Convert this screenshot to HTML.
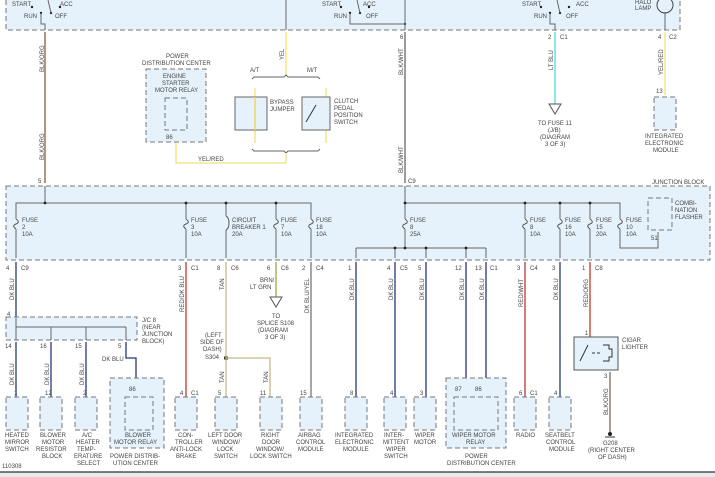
<!DOCTYPE html>
<html><head><meta charset="utf-8"><style>
html,body{margin:0;padding:0;background:#fff;width:715px;height:477px;overflow:hidden}
svg{display:block}
text{font-family:"Liberation Sans",sans-serif;font-size:6px;fill:#444}
.bx{fill:#e6f2fb;stroke:#777;stroke-width:1;stroke-dasharray:5,3}
.w{fill:none;stroke-width:1.3}
.g{fill:none;stroke:#666;stroke-width:1}
.d{fill:#222}
.f{fill:none;stroke:#555;stroke-width:1}
</style></head><body>
<svg width="715" height="477" viewBox="0 0 715 477">
<rect class="bx" x="6" y="-5" width="674" height="35"/>
<text x="12" y="6">START</text><text x="60" y="6">ACC</text>
<text x="24" y="18">RUN</text><text x="55" y="18">OFF</text>
<text x="322" y="6">START</text><text x="363" y="6">ACC</text>
<text x="334" y="18">RUN</text><text x="366" y="18">OFF</text>
<text x="522" y="6">START</text><text x="576" y="6">ACC</text>
<text x="534" y="18">RUN</text><text x="566" y="18">OFF</text>
<text x="635" y="4">HALO</text><text x="635" y="10">LAMP</text>
<circle cx="665" cy="5" r="8" fill="none" stroke="#444"/>
<g class="d"><circle cx="32" cy="7" r="1.2"/><circle cx="41" cy="13" r="1.2"/><circle cx="51" cy="13" r="1.2"/><circle cx="60" cy="7" r="1.2"/>
<circle cx="341" cy="7" r="1.2"/><circle cx="350" cy="13" r="1.2"/><circle cx="360" cy="13" r="1.2"/><circle cx="369" cy="7" r="1.2"/><circle cx="405" cy="24" r="1.2"/>
<circle cx="541" cy="7" r="1.2"/><circle cx="550" cy="13" r="1.2"/><circle cx="560" cy="13" r="1.2"/><circle cx="569" cy="7" r="1.2"/></g>
<line class="g" x1="48" y1="0" x2="51" y2="13"/><line class="g" x1="357" y1="0" x2="360" y2="13"/><line class="g" x1="557" y1="0" x2="560" y2="13"/>
<polyline class="g" points="41,13 41,24 45,24 45,30"/>
<line class="g" x1="286" y1="0" x2="286" y2="30"/>
<polyline class="g" points="350,13 350,24 405,24 405,30"/>
<polyline class="g" points="550,13 550,24 555,24 555,30"/>
<line class="g" x1="665" y1="12" x2="665" y2="30"/>
<line class="g" x1="405" y1="0" x2="405" y2="24"/>
<line class="w" stroke="#8a5a3a" x1="45" y1="32" x2="45" y2="183"/>
<text transform="translate(44,72) rotate(-90)">BLK/ORG</text>
<text transform="translate(44,160) rotate(-90)">BLK/ORG</text>
<line class="w" stroke="#666" x1="405" y1="32" x2="405" y2="183"/>
<text transform="translate(403,75) rotate(-90)">BLK/WHT</text>
<text transform="translate(403,173) rotate(-90)">BLK/WHT</text>
<text x="400" y="39">6</text><text x="408" y="183">C9</text>
<line class="w" stroke="#f0e27a" stroke-width="2" x1="286" y1="32" x2="286" y2="76"/>
<text transform="translate(284,60) rotate(-90)">YEL</text>
<text x="250" y="72">A/T</text><text x="307" y="72">M/T</text>
<path class="g" d="M252,79 l2,-2 h30 l2,-2 l2,2 h30 l2,2"/>
<line class="w" stroke="#f0e27a" stroke-width="2" x1="255" y1="88" x2="255" y2="143"/>
<line class="w" stroke="#f0e27a" stroke-width="2" x1="326" y1="88" x2="326" y2="143"/>
<rect x="235" y="97" width="32" height="33" fill="#e6f2fb" stroke="#666"/>
<line x1="255" y1="97" x2="255" y2="130" stroke="#e8d870" stroke-width="1.5"/>
<rect x="302" y="97" width="28" height="33" fill="#e6f2fb" stroke="#666"/>
<line x1="306" y1="122" x2="316" y2="105" stroke="#333"/>
<text x="270" y="104">BYPASS</text><text x="270" y="111">JUMPER</text>
<text x="334" y="103">CLUTCH</text><text x="334" y="110">PEDAL</text><text x="334" y="117">POSITION</text><text x="334" y="124">SWITCH</text>
<path class="g" d="M252,149 l2,2 h30 l2,2 l2,-2 h30 l2,-2"/>
<polyline class="w" stroke="#f0e27a" stroke-width="2" points="176,136 176,163 286,163 286,153"/>
<text x="198" y="161">YEL/RED</text>
<text x="166" y="58">POWER</text><text x="142" y="65">DISTRIBUTION CENTER</text>
<rect class="bx" x="146" y="69" width="60" height="73"/>
<text x="163" y="78">ENGINE</text><text x="162" y="85">STARTER</text><text x="155" y="92">MOTOR RELAY</text>
<rect class="bx" x="165" y="98" width="22" height="32"/>
<text x="166" y="139">86</text>
<line class="w" stroke="#4fd5e5" stroke-width="2" x1="555" y1="32" x2="555" y2="104"/>
<text transform="translate(553,70) rotate(-90)">LT BLU</text>
<text x="548" y="39">2</text><text x="560" y="39">C1</text>
<path d="M549,104 h12 l-6,10 z" fill="#fff" stroke="#555"/>
<text x="538" y="125">TO FUSE 11</text><text x="548" y="132">(J/B)</text><text x="540" y="139">(DIAGRAM</text><text x="545" y="146">3 OF 3)</text>
<line class="w" stroke="#f0e27a" stroke-width="2" x1="665" y1="32" x2="665" y2="95"/>
<text transform="translate(663,75) rotate(-90)">YEL/RED</text>
<text x="658" y="39">4</text><text x="669" y="39">C2</text><text x="656" y="93">13</text>
<rect class="bx" x="654" y="97" width="22" height="33"/>
<text x="645" y="138">INTEGRATED</text><text x="645" y="145">ELECTRONIC</text><text x="653" y="152">MODULE</text>
<rect class="bx" x="6" y="186" width="704" height="74"/>
<text x="652" y="184">JUNCTION BLOCK</text>
<text x="38" y="183">5</text>
<polyline class="g" points="16,258 16,203 311,203 311,258"/>
<line class="g" x1="45" y1="186" x2="45" y2="203"/>
<line class="g" x1="186" y1="203" x2="186" y2="258"/>
<line class="g" x1="226" y1="203" x2="226" y2="258"/>
<line class="g" x1="276" y1="203" x2="276" y2="258"/>
<text x="22" y="222">FUSE</text><text x="22" y="229">2</text><text x="22" y="236">10A</text>
<text x="191" y="222">FUSE</text><text x="191" y="229">3</text><text x="191" y="236">10A</text>
<text x="232" y="222">CIRCUIT</text><text x="232" y="229">BREAKER 1</text><text x="232" y="236">20A</text>
<text x="281" y="222">FUSE</text><text x="281" y="229">7</text><text x="281" y="236">10A</text>
<text x="316" y="222">FUSE</text><text x="316" y="229">18</text><text x="316" y="236">10A</text>
<line class="g" x1="405" y1="186" x2="405" y2="248"/>
<polyline class="g" points="405,203 620,203 620,248 658,248 658,232"/>
<line class="g" x1="356" y1="248" x2="486" y2="248"/>
<g class="g"><line x1="356" y1="248" x2="356" y2="258"/><line x1="395" y1="248" x2="395" y2="258"/><line x1="426" y1="248" x2="426" y2="258"/><line x1="466" y1="248" x2="466" y2="258"/><line x1="486" y1="248" x2="486" y2="258"/>
<line x1="525" y1="203" x2="525" y2="258"/><line x1="560" y1="203" x2="560" y2="258"/><line x1="590" y1="203" x2="590" y2="258"/></g>
<g>
<rect x="14" y="219" width="4" height="10" fill="#e6f2fb"/><path class="f" d="M16,219 c3,2 3,4 0,5 c-3,1 -3,3 0,5"/>
<rect x="184" y="219" width="4" height="10" fill="#e6f2fb"/><path class="f" d="M186,219 c3,2 3,4 0,5 c-3,1 -3,3 0,5"/>
<rect x="224" y="216" width="4" height="14" fill="#e6f2fb"/><path class="f" d="M226,216 c4,2 4,12 0,14"/>
<rect x="274" y="219" width="4" height="10" fill="#e6f2fb"/><path class="f" d="M276,219 c3,2 3,4 0,5 c-3,1 -3,3 0,5"/>
<rect x="309" y="219" width="4" height="10" fill="#e6f2fb"/><path class="f" d="M311,219 c3,2 3,4 0,5 c-3,1 -3,3 0,5"/>
<rect x="403" y="219" width="4" height="10" fill="#e6f2fb"/><path class="f" d="M405,219 c3,2 3,4 0,5 c-3,1 -3,3 0,5"/>
<rect x="523" y="219" width="4" height="10" fill="#e6f2fb"/><path class="f" d="M525,219 c3,2 3,4 0,5 c-3,1 -3,3 0,5"/>
<rect x="558" y="219" width="4" height="10" fill="#e6f2fb"/><path class="f" d="M560,219 c3,2 3,4 0,5 c-3,1 -3,3 0,5"/>
<rect x="588" y="219" width="4" height="10" fill="#e6f2fb"/><path class="f" d="M590,219 c3,2 3,4 0,5 c-3,1 -3,3 0,5"/>
<rect x="618" y="219" width="4" height="10" fill="#e6f2fb"/><path class="f" d="M620,219 c3,2 3,4 0,5 c-3,1 -3,3 0,5"/>
</g>
<text x="410" y="222">FUSE</text><text x="410" y="229">8</text><text x="410" y="236">25A</text>
<text x="530" y="222">FUSE</text><text x="530" y="229">8</text><text x="530" y="236">10A</text>
<text x="565" y="222">FUSE</text><text x="565" y="229">16</text><text x="565" y="236">10A</text>
<text x="596" y="222">FUSE</text><text x="596" y="229">15</text><text x="596" y="236">20A</text>
<text x="626" y="222">FUSE</text><text x="626" y="229">10</text><text x="626" y="236">10A</text>
<rect class="bx" x="648" y="198" width="24" height="32"/>
<text x="675" y="205">COMBI-</text><text x="675" y="212">NATION</text><text x="675" y="219">FLASHER</text><text x="651" y="240">51</text>
<g class="d"><circle cx="45" cy="203" r="1.4"/><circle cx="186" cy="203" r="1.4"/><circle cx="226" cy="203" r="1.4"/><circle cx="276" cy="203" r="1.4"/><circle cx="405" cy="203" r="1.4"/><circle cx="525" cy="203" r="1.4"/><circle cx="560" cy="203" r="1.4"/><circle cx="590" cy="203" r="1.4"/><circle cx="405" cy="248" r="1.4"/><circle cx="395" cy="248" r="1.4"/><circle cx="426" cy="248" r="1.4"/><circle cx="466" cy="248" r="1.4"/><circle cx="226" cy="358" r="2"/>
<circle cx="16" cy="327" r="1.4"/><circle cx="51" cy="327" r="1.4"/><circle cx="86" cy="327" r="1.4"/></g>
<line class="w" stroke="#1f3a7a" x1="16" y1="262" x2="16" y2="318"/>
<text x="6" y="270">4</text><text x="21" y="270">C9</text>
<text transform="translate(14,300) rotate(-90)">DK BLU</text>
<rect class="bx" x="6" y="317" width="131" height="23"/>
<text x="7" y="316">4</text>
<text x="142" y="322">J/C 8</text><text x="142" y="329">(NEAR</text><text x="142" y="336">JUNCTION</text><text x="142" y="343">BLOCK)</text>
<g class="g"><line x1="16" y1="318" x2="16" y2="340"/><line x1="16" y1="327" x2="126" y2="327"/>
<line x1="51" y1="327" x2="51" y2="340"/><line x1="86" y1="327" x2="86" y2="340"/><line x1="126" y1="327" x2="126" y2="340"/></g>
<g class="w" stroke="#1f3a7a">
<line x1="16" y1="342" x2="16" y2="397"/><line x1="51" y1="342" x2="51" y2="397"/><line x1="86" y1="342" x2="86" y2="397"/>
<polyline points="126,342 126,358 136,358 136,390"/>
<line x1="356" y1="262" x2="356" y2="397"/><line x1="395" y1="262" x2="395" y2="397"/><line x1="426" y1="262" x2="426" y2="397"/>
<line x1="466" y1="262" x2="466" y2="390"/><line x1="486" y1="262" x2="486" y2="390"/>
<line x1="560" y1="262" x2="560" y2="397"/></g>
<line class="w" stroke="#c0392b" x1="186" y1="262" x2="186" y2="397"/>
<line class="w" stroke="#c0392b" x1="525" y1="262" x2="525" y2="397"/>
<line class="w" stroke="#c0392b" x1="590" y1="262" x2="590" y2="337"/>
<line class="w" stroke="#c8b98a" x1="226" y1="262" x2="226" y2="397"/>
<polyline class="w" stroke="#c8b98a" points="226,358 270,358 270,397"/>
<line class="w" stroke="#9aa84a" x1="276" y1="262" x2="276" y2="297"/>
<path d="M270,297 h12 l-6,10 z" fill="#fff" stroke="#555"/>
<line class="w" stroke="#777" x1="311" y1="262" x2="311" y2="397"/>
<text x="178" y="270">3</text><text x="191" y="270">C1</text>
<text x="217" y="270">8</text><text x="231" y="270">C6</text>
<text x="267" y="270">6</text><text x="281" y="270">C6</text>
<text x="302" y="270">2</text><text x="316" y="270">C4</text>
<text x="348" y="270">1</text><text x="387" y="270">4</text><text x="400" y="270">C5</text><text x="418" y="270">5</text>
<text x="455" y="270">12</text><text x="475" y="270">13</text><text x="490" y="270">C1</text>
<text x="517" y="270">3</text><text x="530" y="270">C4</text><text x="552" y="270">3</text><text x="582" y="270">1</text><text x="595" y="270">C8</text>
<text transform="translate(184,312) rotate(-90)">RED/DK BLU</text>
<text transform="translate(224,290) rotate(-90)">TAN</text>
<text x="260" y="282">BRN/</text><text x="250" y="289">LT GRN</text>
<text x="272" y="318">TO</text><text x="257" y="325">SPLICE S108</text><text x="258" y="332">(DIAGRAM</text><text x="265" y="339">3 OF 3)</text>
<text transform="translate(309,313) rotate(-90)">DK BLU/YEL</text>
<text transform="translate(354,300) rotate(-90)">DK BLU</text><text transform="translate(393,300) rotate(-90)">DK BLU</text>
<text transform="translate(424,300) rotate(-90)">DK BLU</text><text transform="translate(464,300) rotate(-90)">DK BLU</text>
<text transform="translate(484,300) rotate(-90)">DK BLU</text><text transform="translate(523,307) rotate(-90)">RED/WHT</text>
<text transform="translate(558,300) rotate(-90)">DK BLU</text><text transform="translate(588,307) rotate(-90)">RED/ORG</text>
<text x="5" y="348">14</text><text x="40" y="348">16</text><text x="75" y="348">15</text><text x="118" y="348">5</text>
<text x="102" y="361">DK BLU</text>
<text transform="translate(14,385) rotate(-90)">DK BLU</text><text transform="translate(49,385) rotate(-90)">DK BLU</text><text transform="translate(84,385) rotate(-90)">DK BLU</text>
<text x="205" y="337">(LEFT</text><text x="200" y="344">SIDE OF</text><text x="203" y="351">DASH)</text><text x="205" y="359">S304</text>
<text transform="translate(224,383) rotate(-90)">TAN</text><text transform="translate(268,383) rotate(-90)">TAN</text>
<rect x="574" y="337" width="44" height="33" fill="#e6f2fb" stroke="#555"/>
<line x1="580" y1="361" x2="588" y2="345" stroke="#333"/>
<line x1="592" y1="353" x2="600" y2="353" stroke="#333" stroke-dasharray="3,2"/>
<path d="M603,345 h6 v4 h3 v8 h-3 v4 h-6" fill="none" stroke="#333"/>
<text x="622" y="342">CIGAR</text><text x="622" y="349">LIGHTER</text>
<text x="585" y="335">1</text><text x="604" y="378">3</text>
<line class="w" stroke="#7a6a5a" x1="610" y1="372" x2="610" y2="433"/>
<text transform="translate(608,415) rotate(-90)">BLK/ORG</text>
<circle cx="610" cy="434" r="2" fill="#222"/>
<line x1="605" y1="437" x2="615" y2="437" stroke="#333"/>
<text x="603" y="445">G208</text><text x="588" y="452">(RIGHT CENTER</text><text x="598" y="459">OF DASH)</text>
<g>
<rect class="bx" x="110" y="378" width="54" height="70"/>
<rect class="bx" x="446" y="378" width="60" height="70"/>
<rect class="bx" x="6" y="397" width="22" height="33"/><rect class="bx" x="40" y="397" width="22" height="33"/>
<rect class="bx" x="75" y="397" width="22" height="33"/><rect class="bx" x="125" y="397" width="28" height="33"/>
<rect class="bx" x="175" y="397" width="22" height="33"/><rect class="bx" x="215" y="397" width="22" height="33"/>
<rect class="bx" x="260" y="397" width="22" height="33"/><rect class="bx" x="300" y="397" width="22" height="33"/>
<rect class="bx" x="345" y="397" width="22" height="33"/><rect class="bx" x="384" y="397" width="22" height="33"/>
<rect class="bx" x="414" y="397" width="22" height="33"/><rect class="bx" x="454" y="397" width="44" height="33"/>
<rect class="bx" x="514" y="397" width="22" height="33"/><rect class="bx" x="549" y="397" width="22" height="33"/>
</g>
<text x="14" y="395">1</text><text x="45" y="395">12</text><text x="83" y="395">2</text><text x="129" y="391">86</text>
<text x="180" y="395">4</text><text x="191" y="395">C1</text><text x="218" y="395">5</text><text x="260" y="395">11</text><text x="300" y="395">15</text>
<text x="350" y="395">8</text><text x="390" y="395">4</text><text x="420" y="395">3</text><text x="455" y="391">87</text><text x="475" y="391">86</text>
<text x="519" y="395">6</text><text x="530" y="395">C1</text><text x="554" y="395">4</text>
<g>
<text x="5" y="437">HEATED</text><text x="5" y="444">MIRROR</text><text x="5" y="451">SWITCH</text>
<text x="40" y="437">BLOWER</text><text x="42" y="444">MOTOR</text><text x="36" y="451">RESISTOR</text><text x="42" y="458">BLOCK</text>
<text x="82" y="437">A/C</text><text x="76" y="444">HEATER</text><text x="77" y="451">TEMP-</text><text x="74" y="458">ERATURE</text><text x="77" y="465">SELECT</text>
<text x="125" y="437">BLOWER</text><text x="114" y="444">MOTOR RELAY</text><text x="110" y="458">POWER DISTRIB-</text><text x="113" y="465">UTION CENTER</text>
<text x="178" y="437">CON-</text><text x="175" y="444">TROLLER</text><text x="170" y="451">ANTI-LOCK</text><text x="176" y="458">BRAKE</text>
<text x="208" y="437">LEFT DOOR</text><text x="212" y="444">WINDOW/</text><text x="217" y="451">LOCK</text><text x="214" y="458">SWITCH</text>
<text x="261" y="437">RIGHT</text><text x="262" y="444">DOOR</text><text x="256" y="451">WINDOW/</text><text x="250" y="458">LOCK SWITCH</text>
<text x="298" y="437">AIRBAG</text><text x="296" y="444">CONTROL</text><text x="298" y="451">MODULE</text>
<text x="335" y="437">INTEGRATED</text><text x="335" y="444">ELECTRONIC</text><text x="343" y="451">MODULE</text>
<text x="384" y="437">INTER-</text><text x="383" y="444">MITTENT</text><text x="386" y="451">WIPER</text><text x="384" y="458">SWITCH</text>
<text x="415" y="437">WIPER</text><text x="414" y="444">MOTOR</text>
<text x="452" y="437">WIPER MOTOR</text><text x="466" y="444">RELAY</text><text x="465" y="458">POWER</text><text x="447" y="465">DISTRIBUTION CENTER</text>
<text x="516" y="437">RADIO</text>
<text x="545" y="437">SEATBELT</text><text x="546" y="444">CONTROL</text><text x="549" y="451">MODULE</text>
</g>
<text x="2" y="468">110308</text>
<rect x="0" y="472" width="715" height="5" fill="#e8eaec"/>
<line x1="0" y1="472" x2="715" y2="472" stroke="#333" stroke-width="1.2"/>
</svg>
</body></html>
